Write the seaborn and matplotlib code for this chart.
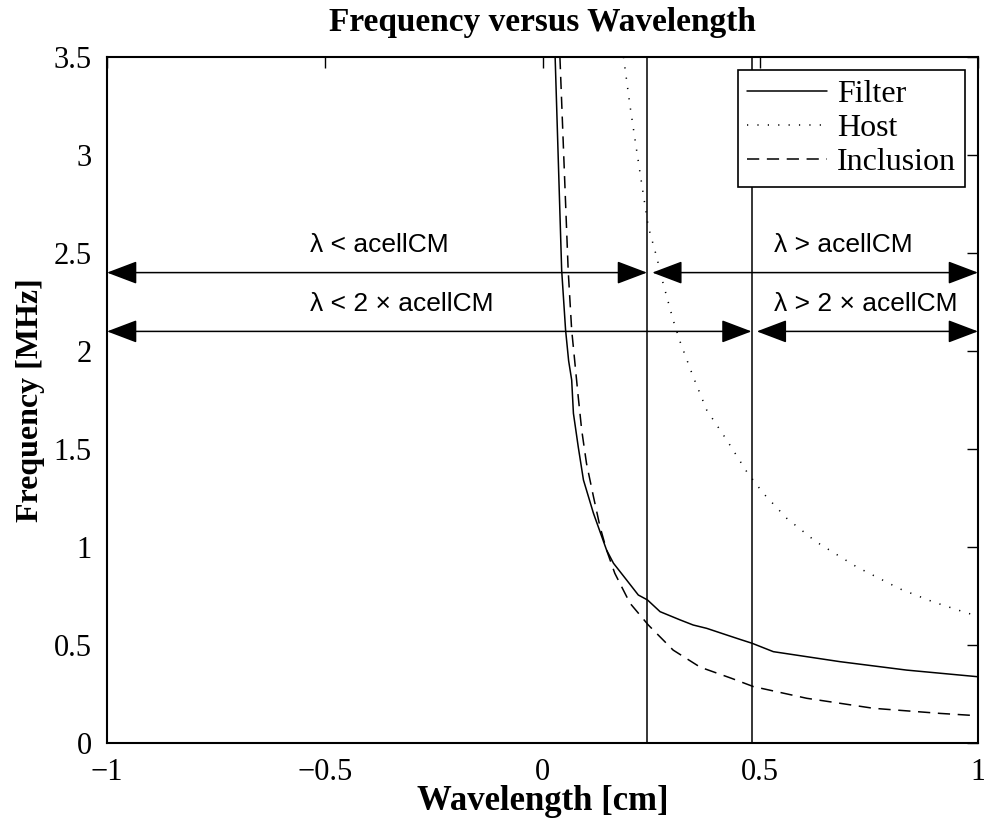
import numpy as np
import pandas as pd
import matplotlib
matplotlib.use("Agg")
import matplotlib.pyplot as plt
import seaborn as sns

# ---- data ----
filter_x = [0.029, 0.044, 0.053, 0.060, 0.067, 0.071, 0.082, 0.094, 0.117, 0.147, 0.163, 0.193, 0.220,
            0.241, 0.270, 0.316, 0.346, 0.377, 0.423, 0.453, 0.481, 0.530, 0.683, 0.836, 1.0]
filter_y = [3.5, 2.413, 2.107, 1.95, 1.852, 1.682, 1.512, 1.342, 1.172, 0.985, 0.917, 0.832, 0.755,
            0.730, 0.670, 0.628, 0.602, 0.585, 0.551, 0.529, 0.509, 0.466, 0.415, 0.372, 0.338]

host_x = [0.186, 0.201, 0.216, 0.231, 0.243, 0.262, 0.277, 0.300, 0.316, 0.346, 0.377, 0.423, 0.469,
          0.507, 0.561, 0.628, 0.721, 0.821, 0.897, 0.978, 1.0]
host_y = [3.5, 3.25, 3.026, 2.806, 2.634, 2.481, 2.345, 2.158, 2.047, 1.869, 1.699, 1.546, 1.384,
          1.274, 1.146, 1.027, 0.899, 0.786, 0.720, 0.661, 0.65]

incl_x = [0.040, 0.059, 0.067, 0.082, 0.090, 0.101, 0.117, 0.132, 0.147, 0.166, 0.201, 0.243, 0.300,
          0.362, 0.434, 0.484, 0.607, 0.760, 0.913, 1.0]
incl_y = [3.5, 2.41, 2.107, 1.767, 1.597, 1.427, 1.257, 1.104, 0.985, 0.866, 0.713, 0.602, 0.474,
          0.387, 0.330, 0.288, 0.228, 0.177, 0.151, 0.139]

acell = 0.24
vlines_x = [acell, 2 * acell]
arrow_levels = [2.4, 2.1]
arrow_labels_left = ["λ < acellCM", "λ < 2 × acellCM"]
arrow_labels_right = ["λ > acellCM", "λ > 2 × acellCM"]

xticks = [-1, -0.5, 0, 0.5, 1]
xticklabels = ["\u22121", "\u22120.5", "0", "0.5", "1"]
yticks = [0, 0.5, 1, 1.5, 2, 2.5, 3, 3.5]
yticklabels = ["0", "0.5", "1", "1.5", "2", "2.5", "3", "3.5"]

sns.set_style("white")
plt.rcParams["font.family"] = ["Liberation Serif", "DejaVu Serif"]
plt.rcParams["text.color"] = "black"
plt.rcParams["axes.labelcolor"] = "black"
plt.rcParams["xtick.color"] = "black"
plt.rcParams["ytick.color"] = "black"

fig = plt.figure(figsize=(9.84, 8.24), dpi=100)
ax = fig.add_axes([107 / 984, 1 - 743 / 824, (978 - 107) / 984, (743 - 57) / 824])

df_f = pd.DataFrame({"x": filter_x, "y": filter_y})
df_h = pd.DataFrame({"x": host_x, "y": host_y})
df_i = pd.DataFrame({"x": incl_x, "y": incl_y})

sns.lineplot(data=df_f, x="x", y="y", ax=ax, color="black", lw=1.1, sort=False, label="Filter")
sns.lineplot(data=df_h, x="x", y="y", ax=ax, color="black", lw=1.1, sort=False, label="Host",
             linestyle=(0, (0.8, 6)))
sns.lineplot(data=df_i, x="x", y="y", ax=ax, color="black", lw=1.1, sort=False, label="Inclusion",
             linestyle=(0, (8, 5)))

for vx in vlines_x:
    ax.axvline(vx, color="black", lw=1.1)

arrow_kw = dict(arrowstyle="<|-|>,head_length=0.95,head_width=0.36", color="black", lw=1.1,
                shrinkA=0, shrinkB=0, mutation_scale=20)
for i, lvl in enumerate(arrow_levels):
    split = vlines_x[i]
    ax.annotate("", xy=(-1, lvl), xytext=(split, lvl), arrowprops=arrow_kw)
    ax.annotate("", xy=(split + 0.012, lvl), xytext=(1, lvl), arrowprops=arrow_kw)
    ax.text(-0.534, lvl + 0.14, arrow_labels_left[i], ha="left", va="center",
            fontsize=19, family=["Liberation Sans", "DejaVu Sans"])
    ax.text(0.532, lvl + 0.14, arrow_labels_right[i], ha="left", va="center",
            fontsize=19, family=["Liberation Sans", "DejaVu Sans"])

ax.set_xlim(-1, 1)
ax.set_ylim(0, 3.5)
ax.set_xticks(xticks)
ax.set_xticklabels(xticklabels)
ax.set_yticks(yticks)
ax.set_yticklabels(yticklabels)
ax.tick_params(direction="in", length=8, width=1, labelsize=22, top=True, right=True, pad=11)
for s in ax.spines.values():
    s.set_visible(True)
    s.set_color("black")
    s.set_linewidth(1.5)

ax.set_xlabel("Wavelength [cm]", fontsize=25, fontweight="bold", labelpad=-2)
ax.set_ylabel("Frequency [MHz]", fontsize=23, fontweight="bold", labelpad=6)
ax.set_title("Frequency versus Wavelength", fontsize=24, fontweight="bold", pad=19)

leg = ax.legend(loc="upper right", fontsize=23, frameon=True, fancybox=False, handlelength=2.5,
                borderpad=0.3, labelspacing=0.15, handletextpad=0.3, borderaxespad=0.4)
leg.get_frame().set_edgecolor("black")
leg.get_frame().set_linewidth(1.2)
leg.get_frame().set_alpha(1)

fig.savefig("out.png", dpi=100)
